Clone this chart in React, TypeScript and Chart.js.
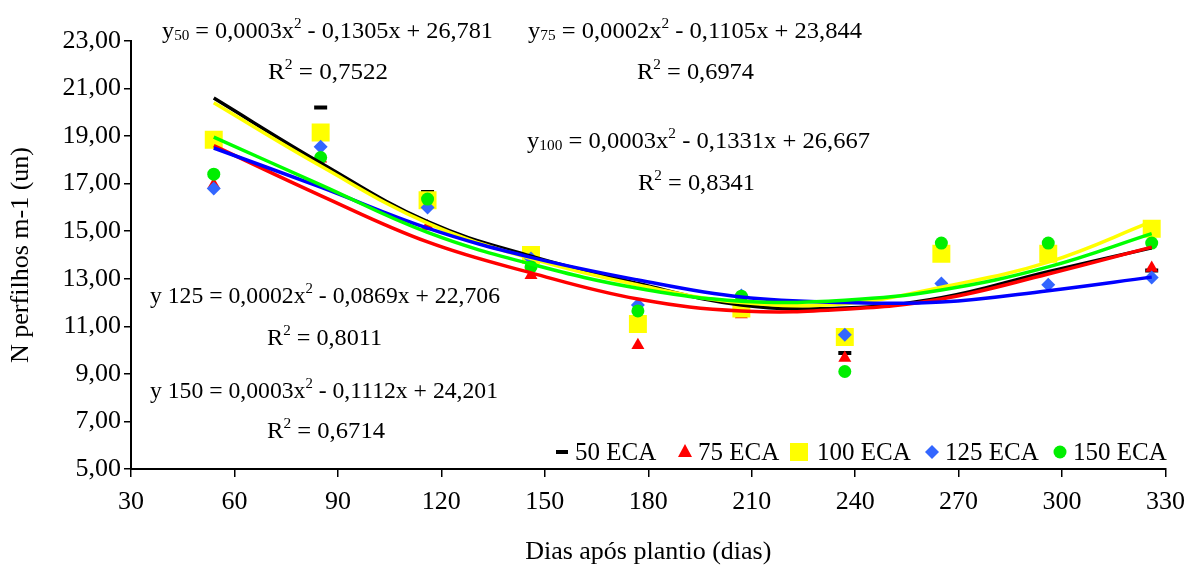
import React, { useEffect, useRef } from 'react';
import { Chart, registerables } from 'chart.js';

Chart.register(...registerables);

const FONT = '"Liberation Serif", "Times New Roman", serif';

// Days after planting (x positions of the measurements)
const days = [54, 85, 116, 146, 177, 207, 237, 265, 296, 326];

// Observed values per treatment
const eca50 = [18.8, 20.2, 16.65, 13.9, 11.1, 11.75, 9.88, 14.0, 14.0, 13.35];
const eca75 = [16.95, 18.05, 15.2, 13.15, 10.2, 11.5, 9.67, 14.0, 14.0, 13.45];
const eca100 = [18.85, 19.15, 16.3, 14.0, 11.1, 11.75, 10.55, 14.05, 14.05, 15.1];
const eca125 = [16.8, 18.55, 16.0, 13.85, 11.9, 12.3, 10.65, 12.8, 12.75, 13.05];
const eca150 = [17.4, 18.1, 16.35, 13.5, 11.65, 12.27, 9.1, 14.5, 14.5, 14.5];

// Trend lines at the same days
const trend50 = [20.6, 17.87, 15.4, 13.95, 12.8, 11.9, 11.77, 12.2, 13.3, 14.3];
const trend75 = [18.6, 16.5, 14.55, 13.25, 12.15, 11.65, 11.72, 12.15, 13.2, 14.33];
const trend100 = [20.4, 17.74, 15.34, 13.85, 12.74, 12.0, 11.95, 12.65, 13.7, 15.4];
const trend125 = [18.5, 16.85, 15.13, 13.9, 12.95, 12.23, 12.0, 12.02, 12.5, 13.07];
const trend150 = [18.96, 16.95, 14.95, 13.62, 12.6, 12.06, 12.1, 12.53, 13.5, 14.9];

const seriesNames = ['50 ECA', '75 ECA', '100 ECA', '125 ECA', '150 ECA'];

const xTicks = [30, 60, 90, 120, 150, 180, 210, 240, 270, 300, 330];
const xTickLabels = ['30', '60', '90', '120', '150', '180', '210', '240', '270', '300', '330'];
const yTicks = [5, 7, 9, 11, 13, 15, 17, 19, 21, 23];
const yTickLabels = ['5,00', '7,00', '9,00', '11,00', '13,00', '15,00', '17,00', '19,00', '21,00', '23,00'];

type Seg = { t: string; k?: 'sub' | 'sup' };

const equations: { segs: Seg[]; left: number; cy: number; width: number }[] = [
  { segs: [{ t: 'y' }, { t: '50', k: 'sub' }, { t: ' = 0,0003x' }, { t: '2', k: 'sup' }, { t: ' - 0,1305x + 26,781' }], left: 162, cy: 30, width: 331 },
  { segs: [{ t: 'R' }, { t: '2', k: 'sup' }, { t: ' = 0,7522' }], left: 268, cy: 71, width: 120 },
  { segs: [{ t: 'y' }, { t: '75', k: 'sub' }, { t: ' = 0,0002x' }, { t: '2', k: 'sup' }, { t: ' - 0,1105x + 23,844' }], left: 528, cy: 30, width: 334 },
  { segs: [{ t: 'R' }, { t: '2', k: 'sup' }, { t: ' = 0,6974' }], left: 637, cy: 71, width: 117 },
  { segs: [{ t: 'y' }, { t: '100', k: 'sub' }, { t: ' = 0,0003x' }, { t: '2', k: 'sup' }, { t: ' - 0,1331x + 26,667' }], left: 527, cy: 140, width: 343 },
  { segs: [{ t: 'R' }, { t: '2', k: 'sup' }, { t: ' = 0,8341' }], left: 638, cy: 182, width: 117 },
  { segs: [{ t: 'y 125 = 0,0002x' }, { t: '2', k: 'sup' }, { t: ' - 0,0869x + 22,706' }], left: 150, cy: 295, width: 350 },
  { segs: [{ t: 'R' }, { t: '2', k: 'sup' }, { t: ' = 0,8011' }], left: 267, cy: 337, width: 115 },
  { segs: [{ t: 'y 150 = 0,0003x' }, { t: '2', k: 'sup' }, { t: ' - 0,1112x + 24,201' }], left: 150, cy: 390, width: 348 },
  { segs: [{ t: 'R' }, { t: '2', k: 'sup' }, { t: ' = 0,6714' }], left: 267, cy: 430, width: 118 },
];

const SIZE = 24;

function drawRich(ctx: CanvasRenderingContext2D, segs: Seg[], left: number, cy: number, width: number, size: number) {
  const big = `${size}px ${FONT}`;
  const small = `${Math.round(size * 0.64)}px ${FONT}`;
  let total = 0;
  const widths: number[] = [];
  for (const s of segs) {
    ctx.font = s.k ? small : big;
    const w = ctx.measureText(s.t).width;
    widths.push(w);
    total += w;
  }
  const sx = width / total;
  ctx.save();
  ctx.translate(left, cy);
  ctx.scale(sx, 1);
  ctx.fillStyle = '#000';
  ctx.textBaseline = 'alphabetic';
  ctx.textAlign = 'left';
  let x = 0;
  const base = size * 0.33;
  segs.forEach((s, i) => {
    ctx.font = s.k ? small : big;
    let dy = base;
    if (s.k === 'sub') dy += size * 0.1;
    if (s.k === 'sup') dy -= size * 0.42;
    ctx.fillText(s.t, x, dy);
    x += widths[i];
  });
  ctx.restore();
}

const legendItems = [
  { marker: 'dash', color: '#000000', mx: 562, tx: 575 },
  { marker: 'tri', color: '#FF0000', mx: 685, tx: 698 },
  { marker: 'sq', color: '#FFFF00', mx: 799, tx: 817 },
  { marker: 'dia', color: '#3366FF', mx: 932, tx: 945 },
  { marker: 'dot', color: '#00EE00', mx: 1060, tx: 1073 },
];

function drawMarker(ctx: CanvasRenderingContext2D, kind: string, color: string, x: number, y: number) {
  ctx.save();
  ctx.fillStyle = color;
  ctx.strokeStyle = color;
  ctx.beginPath();
  if (kind === 'dash') {
    ctx.lineWidth = 4;
    ctx.moveTo(x - 6, y);
    ctx.lineTo(x + 6, y);
    ctx.stroke();
  } else if (kind === 'tri') {
    ctx.moveTo(x, y - 8);
    ctx.lineTo(x + 7, y + 5);
    ctx.lineTo(x - 7, y + 5);
    ctx.closePath();
    ctx.fill();
  } else if (kind === 'sq') {
    ctx.rect(x - 9, y - 9, 18, 18);
    ctx.fill();
  } else if (kind === 'dia') {
    ctx.moveTo(x, y - 7);
    ctx.lineTo(x + 7, y);
    ctx.lineTo(x, y + 7);
    ctx.lineTo(x - 7, y);
    ctx.closePath();
    ctx.fill();
  } else {
    ctx.arc(x, y, 6.5, 0, Math.PI * 2);
    ctx.fill();
  }
  ctx.restore();
}

const overlayPlugin = {
  id: 'overlay',
  afterDraw(chart: any) {
    const ctx: CanvasRenderingContext2D = chart.ctx;
    for (const e of equations) drawRich(ctx, e.segs, e.left, e.cy, e.width, SIZE);
    const ly = 452;
    legendItems.forEach((it, i) => {
      drawMarker(ctx, it.marker, it.color, it.mx, ly);
      ctx.save();
      ctx.font = `25px ${FONT}`;
      ctx.fillStyle = '#000';
      ctx.textBaseline = 'middle';
      ctx.textAlign = 'left';
      ctx.fillText(seriesNames[i], it.tx, ly + 1);
      ctx.restore();
    });
  },
};

const toXY = (vals: number[]) => vals.map((v, i) => ({ x: days[i], y: v }));

export default function App() {
  const ref = useRef<HTMLCanvasElement | null>(null);

  useEffect(() => {
    document.body.style.margin = '0';
    const canvas = ref.current;
    if (!canvas) return;

    const pointSets = [
      { label: seriesNames[0], data: toXY(eca50), pointStyle: 'line', pointRadius: 6.5, pointBorderWidth: 4, pointBorderColor: '#000000', pointBackgroundColor: '#000000', order: 9 },
      { label: seriesNames[1], data: toXY(eca75), pointStyle: 'triangle', pointRadius: 7.5, pointBorderWidth: 0, pointBorderColor: '#FF0000', pointBackgroundColor: '#FF0000', order: 8 },
      { label: seriesNames[2], data: toXY(eca100), pointStyle: 'rect', pointRadius: 12.7, pointBorderWidth: 0, pointBorderColor: '#FFFF00', pointBackgroundColor: '#FFFF00', order: 7 },
      { label: seriesNames[3], data: toXY(eca125), pointStyle: 'rectRot', pointRadius: 7, pointBorderWidth: 0, pointBorderColor: '#3366FF', pointBackgroundColor: '#3366FF', order: 6 },
      { label: seriesNames[4], data: toXY(eca150), pointStyle: 'circle', pointRadius: 6.5, pointBorderWidth: 0, pointBorderColor: '#00EE00', pointBackgroundColor: '#00EE00', order: 5 },
    ].map((d) => ({ ...d, showLine: false, borderColor: d.pointBorderColor, backgroundColor: d.pointBackgroundColor }));

    const lineSets = [
      { label: 'trend 50', data: toXY(trend50), borderColor: '#000000', order: 4 },
      { label: 'trend 75', data: toXY(trend75), borderColor: '#FF0000', order: 3 },
      { label: 'trend 100', data: toXY(trend100), borderColor: '#FFFF00', order: 2 },
      { label: 'trend 125', data: toXY(trend125), borderColor: '#0000FF', order: 1 },
      { label: 'trend 150', data: toXY(trend150), borderColor: '#00FF00', order: 0 },
    ].map((d) => ({ ...d, showLine: true, pointRadius: 0, borderWidth: 3.5, fill: false, tension: 0.4 }));

    const tickFont = { family: FONT, size: 26 };

    const chart = new Chart(canvas, {
      type: 'line',
      data: { datasets: [...pointSets, ...lineSets] as any },
      options: {
        animation: false,
        responsive: false,
        maintainAspectRatio: false,
        layout: { padding: { top: 41, right: 24, left: 0, bottom: 0 } },
        plugins: { legend: { display: false }, tooltip: { enabled: false } },
        scales: {
          x: {
            type: 'linear',
            min: 30,
            max: 330,
            afterBuildTicks: (s: any) => { s.ticks = xTicks.map((v) => ({ value: v })); },
            afterFit: (s: any) => { s.height = 100; },
            ticks: {
              color: '#000',
              font: tickFont,
              padding: 10,
              maxRotation: 0,
              callback: (v: any) => xTickLabels[xTicks.indexOf(Number(v))] ?? '',
            },
            grid: { display: true, drawOnChartArea: false, drawTicks: true, tickLength: 8, color: '#000', lineWidth: 1.5 },
            border: { display: true, color: '#000', width: 2 },
            title: { display: true, text: 'Dias após plantio (dias)', color: '#000', font: tickFont, padding: { top: 0, bottom: 1 } },
          },
          y: {
            type: 'linear',
            min: 5,
            max: 23,
            afterBuildTicks: (s: any) => { s.ticks = yTicks.map((v) => ({ value: v })); },
            afterFit: (s: any) => { s.width = 131; },
            ticks: {
              color: '#000',
              font: tickFont,
              padding: 3,
              callback: (v: any) => yTickLabels[yTicks.indexOf(Number(v))] ?? '',
            },
            grid: { display: true, drawOnChartArea: false, drawTicks: true, tickLength: 7, color: '#000', lineWidth: 1.5 },
            border: { display: true, color: '#000', width: 2 },
            title: { display: true, text: 'N perfilhos m-1 (un)', color: '#000', font: tickFont, padding: { top: 6, bottom: 0 } },
          },
        },
      },
      plugins: [overlayPlugin],
    });

    return () => chart.destroy();
  }, []);

  return (
    <div style={{ position: 'fixed', left: 0, top: 0, width: 1195, height: 569, background: '#fff' }}>
      <canvas ref={ref} width={1195} height={569} style={{ width: 1195, height: 569, display: 'block' }} />
    </div>
  );
}
